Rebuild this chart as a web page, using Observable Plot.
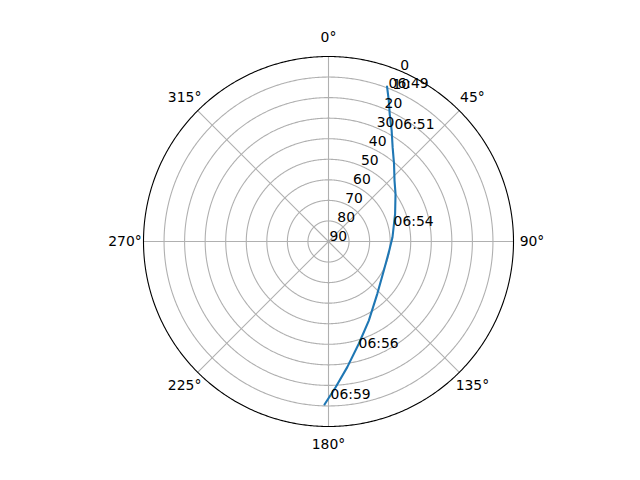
<!DOCTYPE html>
<html><head><meta charset="utf-8">
<script src="https://cdn.jsdelivr.net/npm/d3@7"></script>
<script src="https://cdn.jsdelivr.net/npm/@observablehq/plot@0.6"></script>
<style>body{margin:0;background:#fff}</style>
</head><body><div id="chart"></div>
<script>
// Radial (elevation) ticks and angular (azimuth) ticks
const elevTicks = [0, 10, 20, 30, 40, 50, 60, 70, 80, 90];
const angleTicks = [0, 45, 90, 135, 180, 225, 270, 315];
const angleLabels = ["0°", "45°", "90°", "135°", "180°", "225°", "270°", "315°"];

// Satellite pass: azimuth (deg, clockwise from N) and elevation (deg)
const pathAz = [20.7, 25.6, 34.2, 47.3, 54.6, 67.4, 86.2, 100.0, 117.7, 137.0, 153.0, 163.5, 171.5, 177.2, 181.4];
const pathEl = [9.4, 21.1, 34.5, 46.3, 50.0, 54.9, 58.8, 60.2, 59.6, 55.2, 46.8, 38.1, 28.2, 19.0, 10.7];

// Time annotations along the pass
const labelTimes = ["06:49", "06:51", "06:54", "06:56", "06:59"];
const labelAz = [21.0, 29.9, 76.8, 164.8, 179.6];
const labelEl = [9.8, 26.6, 58.0, 36.1, 13.6];

const lon = az => 180 - az;
const path = pathAz.map((a, i) => ({az: a, el: pathEl[i]}));
const labels = labelTimes.map((t, i) => ({t, az: labelAz[i], el: labelEl[i]}));
const angles = angleTicks.map((a, i) => ({a, label: angleLabels[i]}));
const circles = elevTicks.filter(e => e > 0 && e < 90).map(e => d3.geoCircle().center([0, 90]).radius(90 - e).precision(0.5)());

const plot = Plot.plot({
  width: 640, height: 480,
  marginTop: 56, marginBottom: 54, marginLeft: 143, marginRight: 127,
  projection: {type: "azimuthal-equidistant", rotate: [0, -90], clip: false, domain: d3.geoCircle().center([0, 90]).radius(90)()},
  style: {fontFamily: "DejaVu Sans", fontSize: "13.9px", background: "white", color: "black"},
  marks: [
    Plot.geo(circles, {stroke: "#b0b0b0", strokeWidth: 1.1, fill: "none"}),
    Plot.link(angles, {x1: d => lon(d.a), y1: () => 90, x2: d => lon(d.a), y2: () => 0, stroke: "#b0b0b0", strokeWidth: 1.1}),
    Plot.geo([d3.geoCircle().center([0, 90]).radius(90).precision(0.5)()], {stroke: "black", strokeWidth: 1.1, fill: "none"}),
    Plot.line(path, {x: d => lon(d.az), y: "el", stroke: "#1f77b4", strokeWidth: 2.1}),
    Plot.text(labels, {x: d => lon(d.az), y: "el", text: "t", textAnchor: "start", lineAnchor: "bottom", dx: 1, fill: "black"}),
    Plot.text(elevTicks, {x: () => lon(22.5), y: e => e, text: e => String(e), textAnchor: "start", lineAnchor: "bottom", dx: 1, dy: -1, fill: "black"}),
    Plot.text(angles, {x: d => lon(d.a), y: () => -9, text: "label", textAnchor: "middle", lineAnchor: "middle", fill: "black"})
  ]
});
document.getElementById("chart").append(plot);
</script>
</body></html>
